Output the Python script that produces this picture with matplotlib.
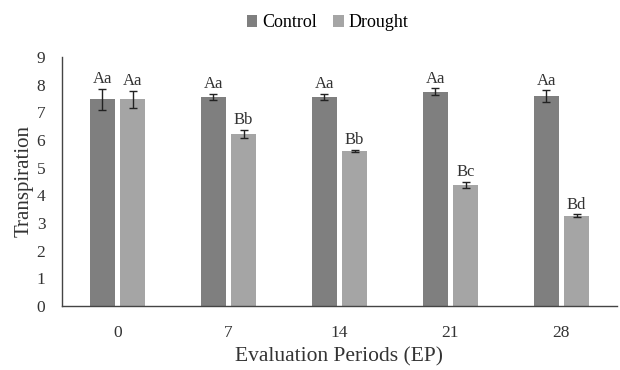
import numpy as np
import matplotlib.pyplot as plt

periods = ['0', '7', '14', '21', '28']
control = [7.47, 7.55, 7.55, 7.75, 7.58]
control_err = [0.38, 0.12, 0.12, 0.12, 0.22]
drought = [7.47, 6.22, 5.6, 4.38, 3.27]
drought_err = [0.3, 0.15, 0.05, 0.1, 0.04]
control_lab = ['Aa', 'Aa', 'Aa', 'Aa', 'Aa']
drought_lab = ['Aa', 'Bb', 'Bb', 'Bc', 'Bd']

plt.rcParams['font.family'] = ['Liberation Serif', 'DejaVu Serif']

fig = plt.figure(figsize=(6.2, 3.7), dpi=100)
ax = fig.add_axes([0.1, 0.173, 0.895, 0.673])

x = np.arange(len(periods))
w = 0.225
off = 0.137
ekw = dict(ecolor='#222222', elinewidth=1, capsize=3, capthick=1)
b1 = ax.bar(x - off, control, w, yerr=control_err, color='#7f7f7f', label='Control', error_kw=ekw)
b2 = ax.bar(x + off, drought, w, yerr=drought_err, color='#a5a5a5', label='Drought', error_kw=ekw)

# significance letters above each error bar
for xi, v, e, t in zip(x - off, control, control_err, control_lab):
    ax.text(xi, v + e + 0.06, t, ha='center', va='bottom', fontsize=12, color='#333333')
for xi, v, e, t in zip(x + off, drought, drought_err, drought_lab):
    ax.text(xi, v + e + 0.06, t, ha='center', va='bottom', fontsize=12, color='#333333')

ax.set_xlim(-0.5, len(periods) - 0.5)
ax.set_ylim(0, 9)
ax.set_yticks(range(10))
ax.set_xticks(x)
ax.set_xticklabels(periods)
ax.tick_params(axis='both', length=0, labelsize=12.5, colors='#333333')
ax.tick_params(axis='x', pad=14)
ax.tick_params(axis='y', pad=12)
for s in ['top', 'right']:
    ax.spines[s].set_visible(False)
for s in ['left', 'bottom']:
    ax.spines[s].set_color('#444444')
    ax.spines[s].set_linewidth(1)

ax.set_ylabel('Transpiration', fontsize=15, color='#333333', labelpad=2)
ax.set_xlabel('Evaluation Periods (EP)', fontsize=15.5, color='#333333', labelpad=4)

fig.legend(handles=[b1, b2], loc='upper center', bbox_to_anchor=(0.528, 1.005), ncol=2,
           frameon=False, fontsize=13, handlelength=0.6, handleheight=0.6,
           handletextpad=0.25, columnspacing=0.9)

fig.savefig('out.png', dpi=100)
